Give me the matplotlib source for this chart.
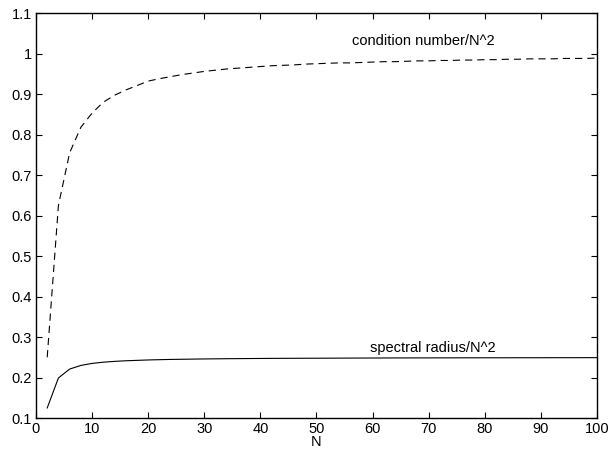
import numpy as np
import matplotlib
matplotlib.use('Agg')
import matplotlib.pyplot as plt
import matplotlib as mpl

### === data ===
N = list(range(2, 101, 2))

cond_over_N2 = [0.250, 0.625, 0.755, 0.818, 0.853, 0.880, 0.897, 0.910, 0.921, 0.932,
                0.938, 0.943, 0.948, 0.952, 0.956, 0.959, 0.962, 0.964, 0.966, 0.968,
                0.970, 0.971, 0.972, 0.974, 0.975, 0.976, 0.977, 0.977, 0.978, 0.979,
                0.980, 0.980, 0.981, 0.982, 0.982, 0.983, 0.983, 0.984, 0.984, 0.985,
                0.985, 0.986, 0.986, 0.987, 0.987, 0.987, 0.988, 0.988, 0.988, 0.989]

spec_over_N2 = [0.125, 0.199, 0.221, 0.230, 0.235, 0.238, 0.240, 0.2415, 0.2425, 0.2435,
                0.2442, 0.2448, 0.2452, 0.2456, 0.2460, 0.2463, 0.2466, 0.2468, 0.2470, 0.2472,
                0.2474, 0.2475, 0.2476, 0.2477, 0.2478, 0.2479, 0.2480, 0.2481, 0.2482, 0.2483,
                0.2484, 0.2485, 0.2485, 0.2486, 0.2486, 0.2487, 0.2487, 0.2488, 0.2488, 0.2489,
                0.2489, 0.2489, 0.2490, 0.2490, 0.2490, 0.2491, 0.2491, 0.2491, 0.2492, 0.2492]

yticks = [0.1, 0.2, 0.3, 0.4, 0.5, 0.6, 0.7, 0.8, 0.9, 1.0, 1.1]
yticklabels = ['0.1', '0.2', '0.3', '0.4', '0.5', '0.6', '0.7', '0.8', '0.9', '1', '1.1']
xticks = [0, 10, 20, 30, 40, 50, 60, 70, 80, 90, 100]


### === style ===
mpl.rc('font', family=['Liberation Sans', 'DejaVu Sans'], size=10.5)
mpl.rc('axes', linewidth=1.0)

fig = plt.figure()
fig.set_size_inches(6.13, 4.51)
ax1 = fig.add_axes([0.0587, 0.073, 0.915, 0.898])

ax1.plot(N, cond_over_N2, color='black', linestyle=(0, (6.5, 4.5)), linewidth=0.8)
ax1.plot(N, spec_over_N2, color='black', linestyle='-', linewidth=0.8)

ax1.text(56.3, 1.03, 'condition number/N^2', va='center', ha='left')
ax1.text(59.6, 0.274, 'spectral radius/N^2', va='center', ha='left')

ax1.set_xlim(0, 100)
ax1.set_ylim(0.1, 1.1)
ax1.set_xticks(xticks)
ax1.set_yticks(yticks)
ax1.set_yticklabels(yticklabels)
ax1.set_xlabel('N', labelpad=-1)
ax1.tick_params(direction='in', length=4, width=0.8, top=True, right=True, pad=3)

plt.savefig('out.png', dpi=100)
